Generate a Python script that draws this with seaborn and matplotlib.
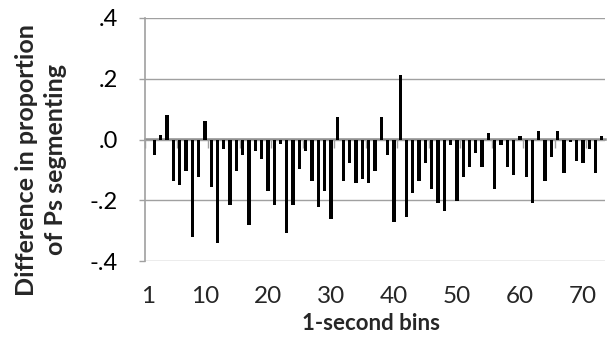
import numpy as np
import seaborn as sns
import matplotlib
matplotlib.use("Agg")
import matplotlib.pyplot as plt

# difference in proportion of Ps segmenting, per 1-second bin
bins = list(range(1, 74))
diffs = [0.000, -0.051, 0.014, 0.082, -0.137, -0.150, -0.103, -0.322, -0.123, 0.061,
         -0.157, -0.342, -0.031, -0.217, -0.103, -0.050, -0.283, -0.037, -0.064, -0.170,
         -0.217, -0.014, -0.309, -0.217, -0.098, -0.037, -0.137, -0.223, -0.170, -0.263,
         0.074, -0.137, -0.078, -0.144, -0.131, -0.144, -0.103, 0.074, -0.051, -0.270,
         0.213, -0.256, -0.177, -0.137, -0.078, -0.164, -0.208, -0.237, -0.018, -0.203,
         -0.123, -0.090, -0.044, -0.090, 0.022, -0.163, -0.017, -0.090, -0.117, 0.013,
         -0.123, -0.209, 0.028, -0.137, -0.057, 0.028, -0.111, -0.009, -0.070, -0.077,
         -0.031, -0.111, 0.013]
xtick_labels = ["1", "10", "20", "30", "40", "50", "60", "70"]
ytick_vals = [0.4, 0.2, 0.0, -0.2, -0.4]
ytick_labels = [".4", ".2", ".0", "-.2", "-.4"]

sns.set_style("white")
plt.rcParams["font.family"] = ["Lato", "DejaVu Sans"]
grey = "#a0a0a0"

fig = plt.figure(figsize=(6.08, 3.44), dpi=100)
ax = fig.add_axes([145 / 608, 1 - 261 / 344, 460 / 608, 243 / 344])

sns.barplot(x=bins, y=diffs, color="black", saturation=1, width=0.52,
            edgecolor="none", ax=ax, zorder=3)

ax.set_xlim(-0.5, len(bins) - 0.5)
ax.set_ylim(-0.4, 0.4)

# y axis: gridlines and ticks
ax.set_yticks(ytick_vals, ytick_labels)
ax.yaxis.grid(True, color=grey, linewidth=1.0)
ax.tick_params(axis="y", left=True, length=4.5, width=1, color=grey, pad=15,
               labelsize=17, labelcolor="black")

# x labels at the bottom, no tick marks
ax.set_xticks([bins.index(int(t)) for t in xtick_labels], xtick_labels)
ax.tick_params(axis="x", bottom=False, length=0, pad=18, labelsize=17.5)

for side in ["top", "right", "bottom"]:
    ax.spines[side].set_visible(False)
ax.spines["left"].set_color(grey)
ax.spines["left"].set_linewidth(1.2)

# horizontal category axis crossing at zero, tick marks every 5 bins
zero_ax = ax.secondary_xaxis(0.5)
zero_ax.set_alignment("bottom")
zero_ax.set_xticks(np.arange(-0.5, len(bins), 5))
zero_ax.tick_params(direction="out", length=6.5, width=1, color=grey,
                    labelbottom=False, labeltop=False)
for sp in zero_ax.spines.values():
    sp.set_color("#8c8c8c")
    sp.set_linewidth(1.8)

ax.set_xlabel("")
ax.set_ylabel("")
fig.text(371 / 608, 1 - 324 / 344, "1-second bins", ha="center", va="center",
         fontsize=16, fontweight="bold")
fig.text(41 / 608, 1 - 160 / 344, "Difference in proportion\nof Ps segmenting",
         ha="center", va="center", rotation=90, multialignment="center",
         fontsize=18, fontweight="bold", linespacing=1.3)

fig.savefig("out.png", dpi=100)
